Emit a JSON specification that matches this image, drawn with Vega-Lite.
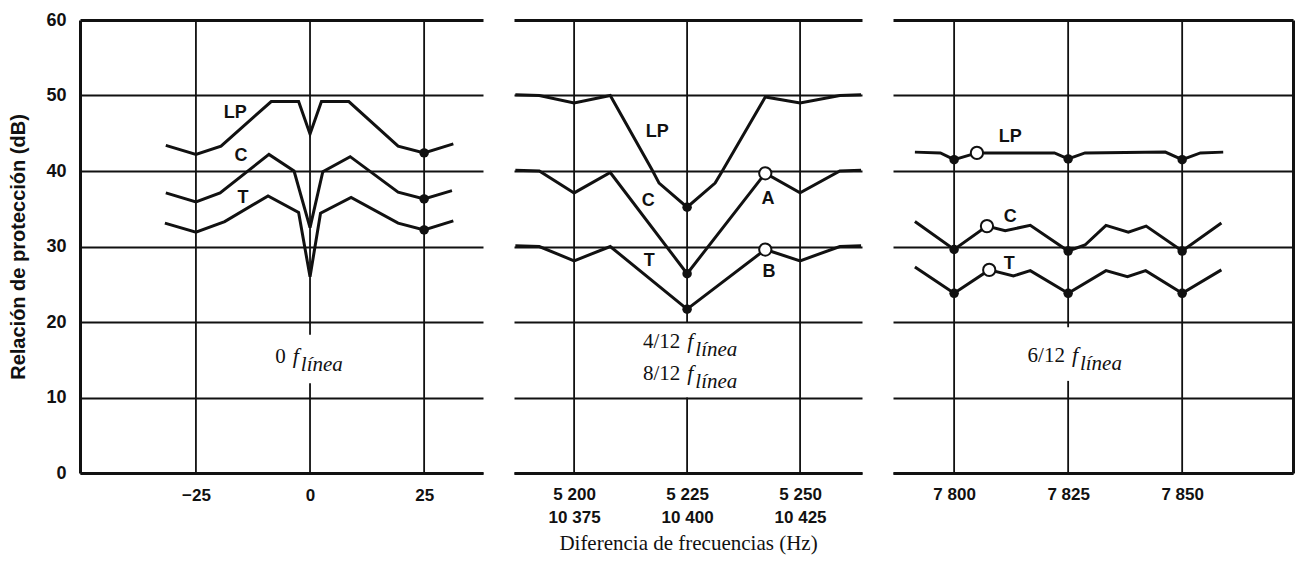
{
  "$schema": "https://vega.github.io/schema/vega-lite/v6.json",
  "background": "white",
  "padding": {"left": 8, "top": 11, "right": 5, "bottom": 5},
  "spacing": 31,
  "bounds": "flush",
  "config": {
    "view": {"stroke": null},
    "axis": {"labelColor": "#111", "titleColor": "#111", "gridColor": "#111", "domainColor": "#111", "tickColor": "#111"}
  },
  "datasets": {
    "curves": [
      {"p":1,"s":"LP","x":-31.6,"y":43.4},{"p":1,"s":"LP","x":-25,"y":42.2},{"p":1,"s":"LP","x":-19.5,"y":43.3},{"p":1,"s":"LP","x":-8.5,"y":49.2},{"p":1,"s":"LP","x":-2.5,"y":49.2},{"p":1,"s":"LP","x":0,"y":44.9},{"p":1,"s":"LP","x":2.5,"y":49.2},{"p":1,"s":"LP","x":8.5,"y":49.2},{"p":1,"s":"LP","x":19.3,"y":43.3},{"p":1,"s":"LP","x":25,"y":42.4},{"p":1,"s":"LP","x":31.4,"y":43.6},
      {"p":1,"s":"C","x":-31.6,"y":37.1},{"p":1,"s":"C","x":-25,"y":35.9},{"p":1,"s":"C","x":-19.7,"y":37.1},{"p":1,"s":"C","x":-9,"y":42.2},{"p":1,"s":"C","x":-3.5,"y":40.0},{"p":1,"s":"C","x":0,"y":32.5},{"p":1,"s":"C","x":2.8,"y":39.9},{"p":1,"s":"C","x":8.8,"y":41.9},{"p":1,"s":"C","x":19.3,"y":37.2},{"p":1,"s":"C","x":25,"y":36.3},{"p":1,"s":"C","x":31.1,"y":37.4},
      {"p":1,"s":"T","x":-31.8,"y":33.1},{"p":1,"s":"T","x":-25,"y":31.9},{"p":1,"s":"T","x":-18.7,"y":33.3},{"p":1,"s":"T","x":-9.2,"y":36.7},{"p":1,"s":"T","x":-2.5,"y":34.5},{"p":1,"s":"T","x":0,"y":26.0},{"p":1,"s":"T","x":2.3,"y":34.4},{"p":1,"s":"T","x":9,"y":36.5},{"p":1,"s":"T","x":19.3,"y":33.1},{"p":1,"s":"T","x":25,"y":32.2},{"p":1,"s":"T","x":31.4,"y":33.4},
      {"p":2,"s":"LP","x":5187,"y":50.1},{"p":2,"s":"LP","x":5192.3,"y":50},{"p":2,"s":"LP","x":5200,"y":49},{"p":2,"s":"LP","x":5208,"y":50},{"p":2,"s":"LP","x":5217.3,"y":40.1},{"p":2,"s":"LP","x":5218.8,"y":38.4},{"p":2,"s":"LP","x":5225,"y":35.2},{"p":2,"s":"LP","x":5231.2,"y":38.4},{"p":2,"s":"LP","x":5232.7,"y":39.9},{"p":2,"s":"LP","x":5242.3,"y":49.8},{"p":2,"s":"LP","x":5250,"y":49},{"p":2,"s":"LP","x":5258.8,"y":50},{"p":2,"s":"LP","x":5263.5,"y":50.1},
      {"p":2,"s":"C","x":5187,"y":40.1},{"p":2,"s":"C","x":5192.3,"y":40},{"p":2,"s":"C","x":5200,"y":37.1},{"p":2,"s":"C","x":5208,"y":39.8},{"p":2,"s":"C","x":5225,"y":26.4},{"p":2,"s":"C","x":5242.3,"y":39.7},{"p":2,"s":"C","x":5250,"y":37.1},{"p":2,"s":"C","x":5258.8,"y":40},{"p":2,"s":"C","x":5263.5,"y":40.1},
      {"p":2,"s":"T","x":5187,"y":30.1},{"p":2,"s":"T","x":5192.3,"y":30},{"p":2,"s":"T","x":5200,"y":28.1},{"p":2,"s":"T","x":5208,"y":30},{"p":2,"s":"T","x":5225,"y":21.7},{"p":2,"s":"T","x":5242.3,"y":29.6},{"p":2,"s":"T","x":5250,"y":28.1},{"p":2,"s":"T","x":5258.8,"y":30},{"p":2,"s":"T","x":5263.5,"y":30.1},
      {"p":3,"s":"LP","x":7791.4,"y":42.5},{"p":3,"s":"LP","x":7797,"y":42.4},{"p":3,"s":"LP","x":7800,"y":41.5},{"p":3,"s":"LP","x":7805,"y":42.4},{"p":3,"s":"LP","x":7822,"y":42.4},{"p":3,"s":"LP","x":7825,"y":41.6},{"p":3,"s":"LP","x":7828.7,"y":42.4},{"p":3,"s":"LP","x":7846.3,"y":42.5},{"p":3,"s":"LP","x":7850,"y":41.5},{"p":3,"s":"LP","x":7854,"y":42.4},{"p":3,"s":"LP","x":7859,"y":42.5},
      {"p":3,"s":"C","x":7791.4,"y":33.3},{"p":3,"s":"C","x":7800,"y":29.6},{"p":3,"s":"C","x":7807.2,"y":32.7},{"p":3,"s":"C","x":7811.2,"y":32.1},{"p":3,"s":"C","x":7816.7,"y":32.8},{"p":3,"s":"C","x":7825,"y":29.4},{"p":3,"s":"C","x":7828.7,"y":30.2},{"p":3,"s":"C","x":7833.3,"y":32.8},{"p":3,"s":"C","x":7838.2,"y":31.9},{"p":3,"s":"C","x":7842.1,"y":32.7},{"p":3,"s":"C","x":7850,"y":29.4},{"p":3,"s":"C","x":7858.6,"y":33.1},
      {"p":3,"s":"T","x":7791.4,"y":27.3},{"p":3,"s":"T","x":7800,"y":23.8},{"p":3,"s":"T","x":7807.7,"y":26.9},{"p":3,"s":"T","x":7813,"y":26.1},{"p":3,"s":"T","x":7816.7,"y":26.8},{"p":3,"s":"T","x":7825,"y":23.8},{"p":3,"s":"T","x":7833.3,"y":26.8},{"p":3,"s":"T","x":7838,"y":26.0},{"p":3,"s":"T","x":7842,"y":26.8},{"p":3,"s":"T","x":7850,"y":23.8},{"p":3,"s":"T","x":7858.6,"y":26.9}
    ],
    "dots": [
      {"p":1,"x":25,"y":42.4},{"p":1,"x":25,"y":36.3},{"p":1,"x":25,"y":32.2},
      {"p":2,"x":5225,"y":35.2},{"p":2,"x":5225,"y":26.4},{"p":2,"x":5225,"y":21.7},
      {"p":3,"x":7800,"y":41.5},{"p":3,"x":7825,"y":41.6},{"p":3,"x":7850,"y":41.5},
      {"p":3,"x":7800,"y":29.6},{"p":3,"x":7825,"y":29.4},{"p":3,"x":7850,"y":29.4},
      {"p":3,"x":7800,"y":23.8},{"p":3,"x":7825,"y":23.8},{"p":3,"x":7850,"y":23.8}
    ],
    "rings": [
      {"p":2,"x":5242.3,"y":39.7},{"p":2,"x":5242.3,"y":29.6},
      {"p":3,"x":7805,"y":42.4},{"p":3,"x":7807.2,"y":32.7},{"p":3,"x":7807.7,"y":26.9}
    ],
    "grid": [
      {"p":1,"x":-25,"y":0,"y2":60},{"p":1,"x":0,"y":18.3,"y2":60},{"p":1,"x":0,"y":0,"y2":11.9},{"p":1,"x":25,"y":0,"y2":60},
      {"p":2,"x":5200,"y":0,"y2":60},{"p":2,"x":5225,"y":20,"y2":60},{"p":2,"x":5225,"y":0,"y2":10},{"p":2,"x":5250,"y":0,"y2":60},
      {"p":3,"x":7800,"y":0,"y2":60},{"p":3,"x":7825,"y":19.3,"y2":60},{"p":3,"x":7825,"y":0,"y2":12.2},{"p":3,"x":7850,"y":0,"y2":60}
    ],
    "tags": [
      {"p":1,"t":"LP","x":-16.4,"y":47.7},{"p":1,"t":"C","x":-15.1,"y":42.0},{"p":1,"t":"T","x":-14.7,"y":36.4},
      {"p":2,"t":"LP","x":5218.4,"y":45.2},{"p":2,"t":"C","x":5216.4,"y":36.0},{"p":2,"t":"T","x":5216.6,"y":28.1},{"p":2,"t":"A","x":5242.9,"y":36.3},{"p":2,"t":"B","x":5243.1,"y":26.6},
      {"p":3,"t":"LP","x":7812.3,"y":44.5},{"p":3,"t":"C","x":7812.3,"y":33.9},{"p":3,"t":"T","x":7812.1,"y":27.7}
    ],
    "notes": [
      {"p":1,"n":"0","x":-5.3,"y":14.6},
      {"p":2,"n":"4/12","x":5223.5,"y":16.6},{"p":2,"n":"8/12","x":5223.5,"y":12.3},
      {"p":3,"n":"6/12","x":7824.3,"y":14.7}
    ]
  },
  "hconcat": [
    {
      "width": 403, "height": 453,
      "encoding": {
        "x": {"field": "x", "type": "quantitative",
          "scale": {"domain": [-50.4, 37.9], "nice": false, "zero": false},
          "axis": {"values": [-25, 0, 25], "grid": false, "ticks": false, "domain": true, "domainWidth": 3, "labelFont": "Liberation Sans", "labelFontWeight": "bold", "labelFontSize": 17, "labelPadding": 14, "title": null}},
        "y": {"field": "y", "type": "quantitative",
          "scale": {"domain": [0, 60], "nice": false, "zero": false},
          "axis": {"values": [0, 10, 20, 30, 40, 50, 60], "grid": true, "gridWidth": {"condition": {"test": "datum.value == 60", "value": 3}, "value": 1.8}, "ticks": false, "domain": true, "domainWidth": 3, "labelFont": "Liberation Sans", "labelFontWeight": "bold", "labelFontSize": 18, "labelPadding": 14, "title": "Relación de protección (dB)", "titleFont": "Liberation Sans", "titleFontSize": 20, "titleFontWeight": "bold", "titlePadding": 17}}
      },
      "layer": [
        {"data": {"name": "grid"}, "transform": [{"filter": "datum.p == 1"}], "mark": {"type": "rule", "color": "#111", "strokeWidth": 1.8}, "encoding": {"y2": {"field": "y2"}}},
        {"data": {"name": "curves"}, "transform": [{"filter": "datum.p == 1"}], "mark": {"type": "line", "color": "#111", "strokeWidth": 3, "strokeJoin": "miter"}, "encoding": {"detail": {"field": "s"}}},
        {"data": {"name": "dots"}, "transform": [{"filter": "datum.p == 1"}], "mark": {"type": "point", "filled": true, "color": "#111", "size": 90, "opacity": 1}},
        {"data": {"name": "tags"}, "transform": [{"filter": "datum.p == 1"}], "mark": {"type": "text", "font": "Liberation Sans", "fontWeight": "bold", "fontSize": 18, "color": "#111"}, "encoding": {"text": {"field": "t"}}},
        {"data": {"name": "notes"}, "transform": [{"filter": "datum.p == 1"}], "mark": {"type": "text", "font": "Liberation Serif", "fontSize": 21, "align": "right", "baseline": "alphabetic", "color": "#111"}, "encoding": {"text": {"field": "n"}}},
        {"data": {"name": "notes"}, "transform": [{"filter": "datum.p == 1"}], "mark": {"type": "text", "font": "Liberation Serif", "fontStyle": "italic", "fontSize": 22, "align": "left", "baseline": "alphabetic", "dx": 7, "color": "#111", "text": "f"}},
        {"data": {"name": "notes"}, "transform": [{"filter": "datum.p == 1"}], "mark": {"type": "text", "font": "Liberation Serif", "fontStyle": "italic", "fontSize": 21, "align": "left", "baseline": "alphabetic", "dx": 15, "dy": 8, "color": "#111", "text": "línea"}}
      ]
    },
    {
      "width": 348, "height": 453,
      "encoding": {
        "x": {"field": "x", "type": "quantitative",
          "scale": {"domain": [5186.7, 5263.7], "nice": false, "zero": false},
          "axis": {"values": [5200, 5225, 5250], "grid": false, "ticks": false, "domain": true, "domainWidth": 3, "labelFont": "Liberation Sans", "labelFontWeight": "bold", "labelFontSize": 17, "labelPadding": 13, "labelLineHeight": 23,
            "labelExpr": "datum.value == 5200 ? ['5 200', '10 375'] : datum.value == 5225 ? ['5 225', '10 400'] : ['5 250', '10 425']",
            "title": "Diferencia de frecuencias (Hz)", "titleFont": "Liberation Serif", "titleFontSize": 21, "titleFontWeight": "normal", "titlePadding": 7}},
        "y": {"field": "y", "type": "quantitative",
          "scale": {"domain": [0, 60], "nice": false, "zero": false},
          "axis": {"values": [0, 10, 20, 30, 40, 50, 60], "grid": true, "gridWidth": {"condition": {"test": "datum.value == 60", "value": 3}, "value": 1.8}, "ticks": false, "domain": false, "labels": false, "title": null}}
      },
      "layer": [
        {"data": {"name": "grid"}, "transform": [{"filter": "datum.p == 2"}], "mark": {"type": "rule", "color": "#111", "strokeWidth": 1.8}, "encoding": {"y2": {"field": "y2"}}},
        {"data": {"name": "curves"}, "transform": [{"filter": "datum.p == 2"}], "mark": {"type": "line", "color": "#111", "strokeWidth": 3, "strokeJoin": "miter"}, "encoding": {"detail": {"field": "s"}}},
        {"data": {"name": "dots"}, "transform": [{"filter": "datum.p == 2"}], "mark": {"type": "point", "filled": true, "color": "#111", "size": 90, "opacity": 1}},
        {"data": {"name": "rings"}, "transform": [{"filter": "datum.p == 2"}], "mark": {"type": "point", "filled": true, "fill": "white", "stroke": "#111", "strokeWidth": 2, "size": 150, "opacity": 1}},
        {"data": {"name": "tags"}, "transform": [{"filter": "datum.p == 2"}], "mark": {"type": "text", "font": "Liberation Sans", "fontWeight": "bold", "fontSize": 18, "color": "#111"}, "encoding": {"text": {"field": "t"}}},
        {"data": {"name": "notes"}, "transform": [{"filter": "datum.p == 2"}], "mark": {"type": "text", "font": "Liberation Serif", "fontSize": 21, "align": "right", "baseline": "alphabetic", "color": "#111"}, "encoding": {"text": {"field": "n"}}},
        {"data": {"name": "notes"}, "transform": [{"filter": "datum.p == 2"}], "mark": {"type": "text", "font": "Liberation Serif", "fontStyle": "italic", "fontSize": 22, "align": "left", "baseline": "alphabetic", "dx": 7, "color": "#111", "text": "f"}},
        {"data": {"name": "notes"}, "transform": [{"filter": "datum.p == 2"}], "mark": {"type": "text", "font": "Liberation Serif", "fontStyle": "italic", "fontSize": 21, "align": "left", "baseline": "alphabetic", "dx": 15, "dy": 8, "color": "#111", "text": "línea"}}
      ]
    },
    {
      "width": 400, "height": 453,
      "encoding": {
        "x": {"field": "x", "type": "quantitative",
          "scale": {"domain": [7786.6, 7874.3], "nice": false, "zero": false},
          "axis": {"values": [7800, 7825, 7850], "grid": false, "ticks": false, "domain": true, "domainWidth": 3, "labelFont": "Liberation Sans", "labelFontWeight": "bold", "labelFontSize": 17, "labelPadding": 13,
            "labelExpr": "replace(format(datum.value, ','), ',', ' ')", "title": null}},
        "y": {"field": "y", "type": "quantitative",
          "scale": {"domain": [0, 60], "nice": false, "zero": false},
          "axis": {"orient": "right", "values": [0, 10, 20, 30, 40, 50, 60], "grid": true, "gridWidth": {"condition": {"test": "datum.value == 60", "value": 3}, "value": 1.8}, "ticks": false, "domain": true, "domainWidth": 3, "labels": false, "title": null}}
      },
      "layer": [
        {"data": {"name": "grid"}, "transform": [{"filter": "datum.p == 3"}], "mark": {"type": "rule", "color": "#111", "strokeWidth": 1.8}, "encoding": {"y2": {"field": "y2"}}},
        {"data": {"name": "curves"}, "transform": [{"filter": "datum.p == 3"}], "mark": {"type": "line", "color": "#111", "strokeWidth": 3, "strokeJoin": "miter"}, "encoding": {"detail": {"field": "s"}}},
        {"data": {"name": "dots"}, "transform": [{"filter": "datum.p == 3"}], "mark": {"type": "point", "filled": true, "color": "#111", "size": 90, "opacity": 1}},
        {"data": {"name": "rings"}, "transform": [{"filter": "datum.p == 3"}], "mark": {"type": "point", "filled": true, "fill": "white", "stroke": "#111", "strokeWidth": 2, "size": 150, "opacity": 1}},
        {"data": {"name": "tags"}, "transform": [{"filter": "datum.p == 3"}], "mark": {"type": "text", "font": "Liberation Sans", "fontWeight": "bold", "fontSize": 18, "color": "#111"}, "encoding": {"text": {"field": "t"}}},
        {"data": {"name": "notes"}, "transform": [{"filter": "datum.p == 3"}], "mark": {"type": "text", "font": "Liberation Serif", "fontSize": 21, "align": "right", "baseline": "alphabetic", "color": "#111"}, "encoding": {"text": {"field": "n"}}},
        {"data": {"name": "notes"}, "transform": [{"filter": "datum.p == 3"}], "mark": {"type": "text", "font": "Liberation Serif", "fontStyle": "italic", "fontSize": 22, "align": "left", "baseline": "alphabetic", "dx": 7, "color": "#111", "text": "f"}},
        {"data": {"name": "notes"}, "transform": [{"filter": "datum.p == 3"}], "mark": {"type": "text", "font": "Liberation Serif", "fontStyle": "italic", "fontSize": 21, "align": "left", "baseline": "alphabetic", "dx": 15, "dy": 8, "color": "#111", "text": "línea"}}
      ]
    }
  ]
}
